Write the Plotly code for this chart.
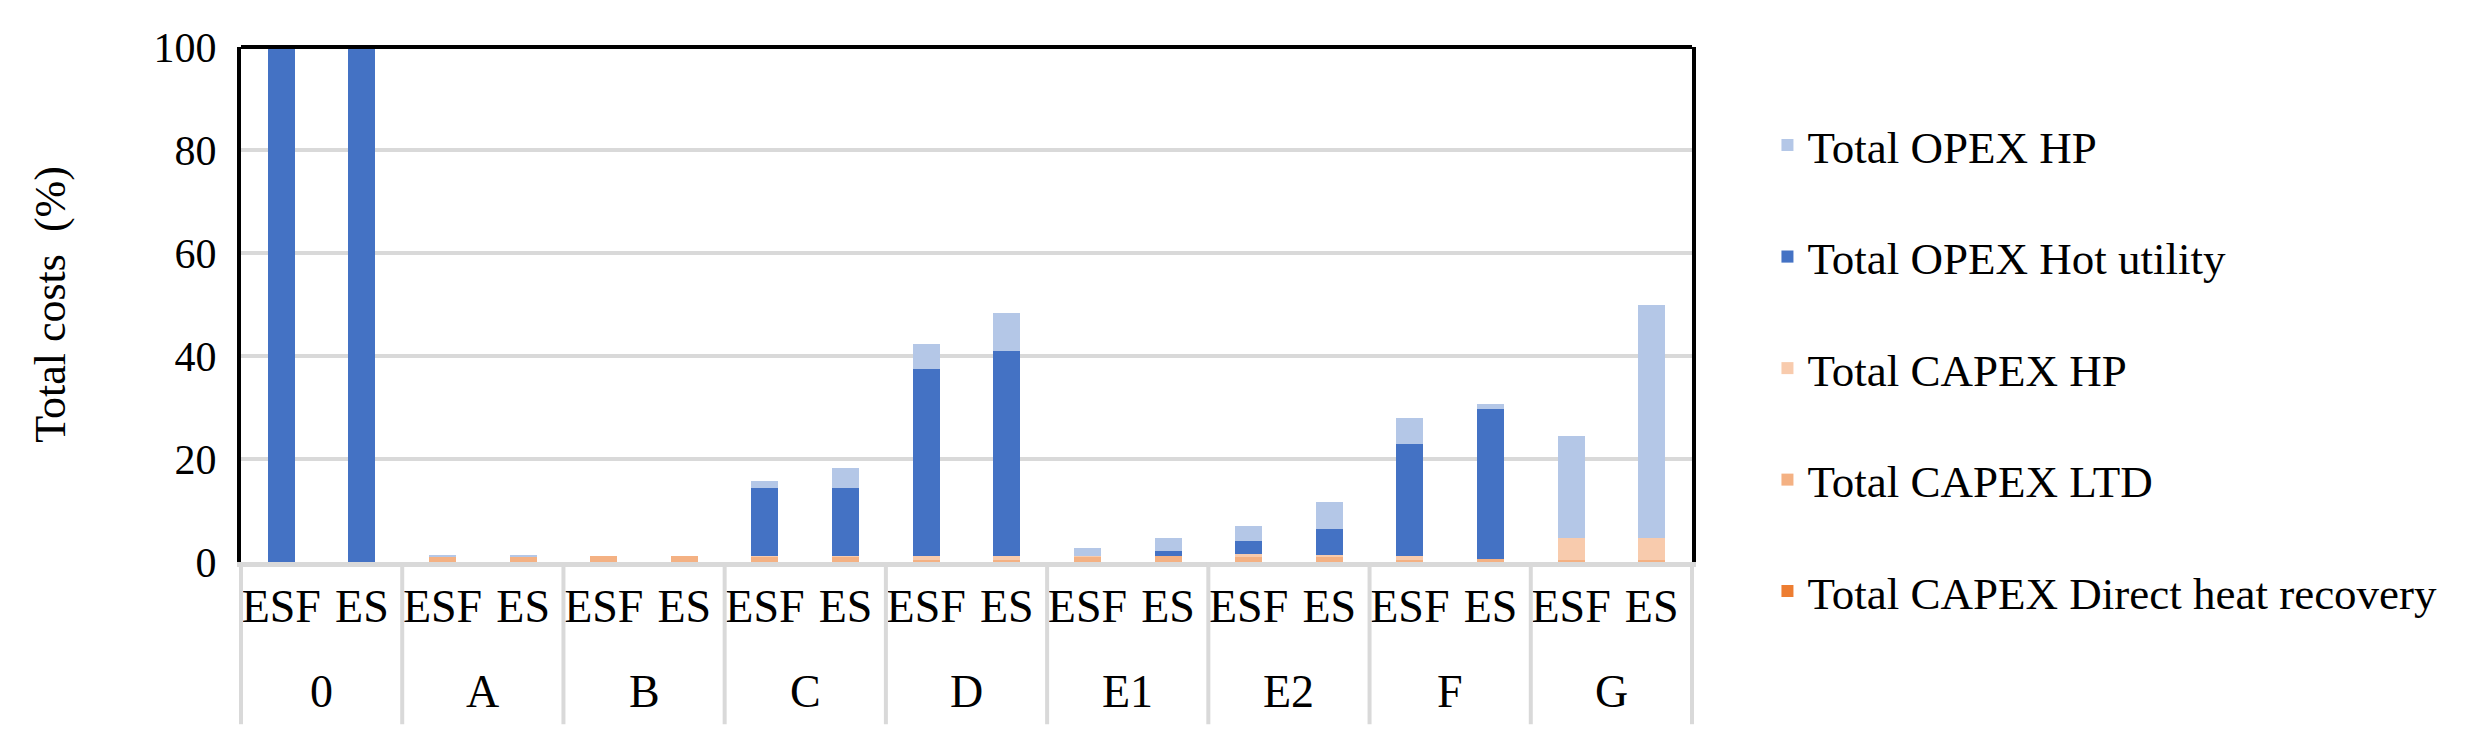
import plotly.graph_objects as go

groups = ["0", "A", "B", "C", "D", "E1", "E2", "F", "G"]
subs = ["ESF", "ES"]

# values per bar, order: 0-ESF, 0-ES, A-ESF, A-ES, ...
capex_direct = [0, 0, 0, 0, 0, 0, 0, 0, 0, 0, 0, 0, 0, 0, 0, 0, 0, 0]
capex_ltd = [0, 0, 0.9, 0.9, 1.2, 1.2, 1.0, 1.0, 0.4, 0.4, 1.0, 1.1, 1.0, 1.0, 0.4, 0.5, 0.4, 0.4]
capex_hp = [0, 0, 0, 0, 0, 0, 0.2, 0.2, 0.8, 0.8, 0.2, 0, 0.6, 0.3, 0.8, 0, 4.3, 4.3]
opex_hot = [100, 100, 0, 0, 0, 0, 13.2, 13.2, 36.3, 39.8, 0, 1.0, 2.5, 5.1, 21.8, 29.2, 0, 0]
opex_hp = [0, 0, 0.45, 0.45, 0, 0, 1.4, 3.9, 4.9, 7.4, 1.5, 2.5, 2.9, 5.3, 4.9, 1.0, 19.8, 45.3]

series = [
    ("Total CAPEX Direct heat recovery", capex_direct, "#ED7D31"),
    ("Total CAPEX LTD", capex_ltd, "#F4B183"),
    ("Total CAPEX HP", capex_hp, "#F8CBAD"),
    ("Total OPEX Hot utility", opex_hot, "#4472C4"),
    ("Total OPEX HP", opex_hp, "#B4C7E7"),
]

# unique category ids (group|sub), labelled with the sub names
cat_ids = [f"{g}|{s}" for g in groups for s in subs]
cat_text = [s for _ in groups for s in subs]

FONT = "Liberation Serif"
GRID = "#D9D9D9"

fig = go.Figure()
n = len(series)
for i, (name, vals, col) in enumerate(series):
    fig.add_trace(go.Bar(
        x=cat_ids, y=vals, name=name, legendgroup=name, legendrank=n - i,
        marker=dict(color=col, line=dict(width=0)),
    ))

ng = len(groups)
annotations = [
    dict(text=g, x=(k + 0.5) / ng, y=-0.252, xref="paper", yref="paper",
         xanchor="center", yanchor="middle", showarrow=False,
         font=dict(family=FONT, size=46, color="black"))
    for k, g in enumerate(groups)
]
shapes = [dict(type="line", xref="paper", yref="paper", x0=k / ng, x1=k / ng,
               y0=0, y1=-0.315, line=dict(color=GRID, width=4))
          for k in range(ng + 1)]
shapes.append(dict(type="line", xref="paper", yref="paper", x0=0, x1=1, y0=1, y1=1,
                   line=dict(color="black", width=4)))

# page body has an 8px margin, so the figure is slightly smaller than the window
fig.update_layout(
    width=2476, height=746,
    margin=dict(l=233, r=792, t=39, b=192),
    barmode="stack", bargap=0.665,
    plot_bgcolor="white", paper_bgcolor="white",
    font=dict(family=FONT, size=44, color="black"),
    legend=dict(
        x=1.052, y=0.376, xanchor="left", yanchor="middle",
        traceorder="grouped", tracegroupgap=50, maxheight=730,
        font=dict(family=FONT, size=45, color="black"),
        itemwidth=30,
    ),
    annotations=annotations,
    shapes=shapes,
)

fig.update_yaxes(
    range=[0, 100], dtick=20, showgrid=True, gridcolor=GRID, gridwidth=4,
    zeroline=False, showline=True, linecolor="black", linewidth=4, mirror=True,
    ticks="", ticklabelstandoff=12,
    tickfont=dict(family=FONT, size=42, color="black"),
    title=dict(text="Total costs  (%)", font=dict(family=FONT, size=44, color="black"), standoff=75),
)
fig.update_xaxes(
    type="category", tickvals=cat_ids, ticktext=cat_text,
    showline=True, linecolor=GRID, linewidth=5, ticks="", tickangle=0,
    showgrid=False, automargin=False,
    tickfont=dict(family=FONT, size=46, color="black"),
)

fig.write_html("out.html")
